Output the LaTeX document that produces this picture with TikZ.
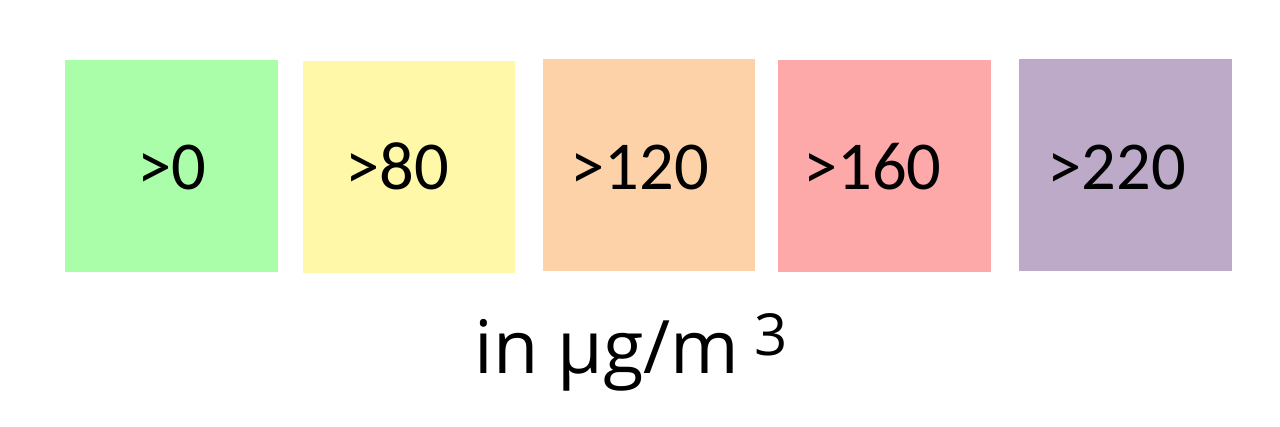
\documentclass[tikz,border=0pt]{standalone}
\usepackage{fontspec}
\setmainfont{Carlito}
\newfontfamily\unitfont{Open Sans}
\usetikzlibrary{positioning}

\definecolor{lvlgreen}{HTML}{AAFDA9}
\definecolor{lvlyellow}{HTML}{FFF8A9}
\definecolor{lvlorange}{HTML}{FDD2A9}
\definecolor{lvlred}{HTML}{FDA8A9}
\definecolor{lvlpurple}{HTML}{BDAAC8}

\tikzset{
  lvlbox/.style={fill=#1, minimum width=4.26cm, minimum height=4.24cm,
    inner sep=0pt},
  lvltext/.style={inner sep=0pt, font=\fontsize{39}{46}\selectfont},
  unitlabel/.style={inner sep=0pt, font=\unitfont\fontsize{42}{50}\selectfont}
}

\begin{document}
\begin{tikzpicture}[x=0.02cm,y=-0.02cm]
    \useasboundingbox (0,0) rectangle (1280,426);
    % level boxes
    \node [lvlbox=lvlgreen] (l0) at (171.5,166) {};
    \node [lvlbox=lvlyellow] (l80) at (409,167) {};
    \node [lvlbox=lvlorange] (l120) at (649,165) {};
    \node [lvlbox=lvlred] (l160) at (884.5,166) {};
    \node [lvlbox=lvlpurple] (l220) at (1125,165) {};
    % thresholds
    \node [lvltext, anchor=base] (t0) at ([yshift=-0.48cm]l0.center) {>0};
    \node [lvltext, anchor=base] (t80) at ([xshift=-0.24cm,yshift=-0.46cm]l80.center) {>80};
    \node [lvltext, anchor=base] (t120) at ([xshift=-0.18cm,yshift=-0.5cm]l120.center) {>120};
    \node [lvltext, anchor=base] (t160) at ([xshift=-0.24cm,yshift=-0.48cm]l160.center) {>160};
    \node [lvltext, anchor=base] (t220) at ([xshift=-0.16cm,yshift=-0.5cm]l220.center) {>220};
    % unit
    \node [unitlabel, anchor=base] (unit) at (631,373)
      {in µg/m\kern 0.2em{\fontsize{33}{36}\selectfont\raisebox{10pt}{3}}};
\end{tikzpicture}
\end{document}
